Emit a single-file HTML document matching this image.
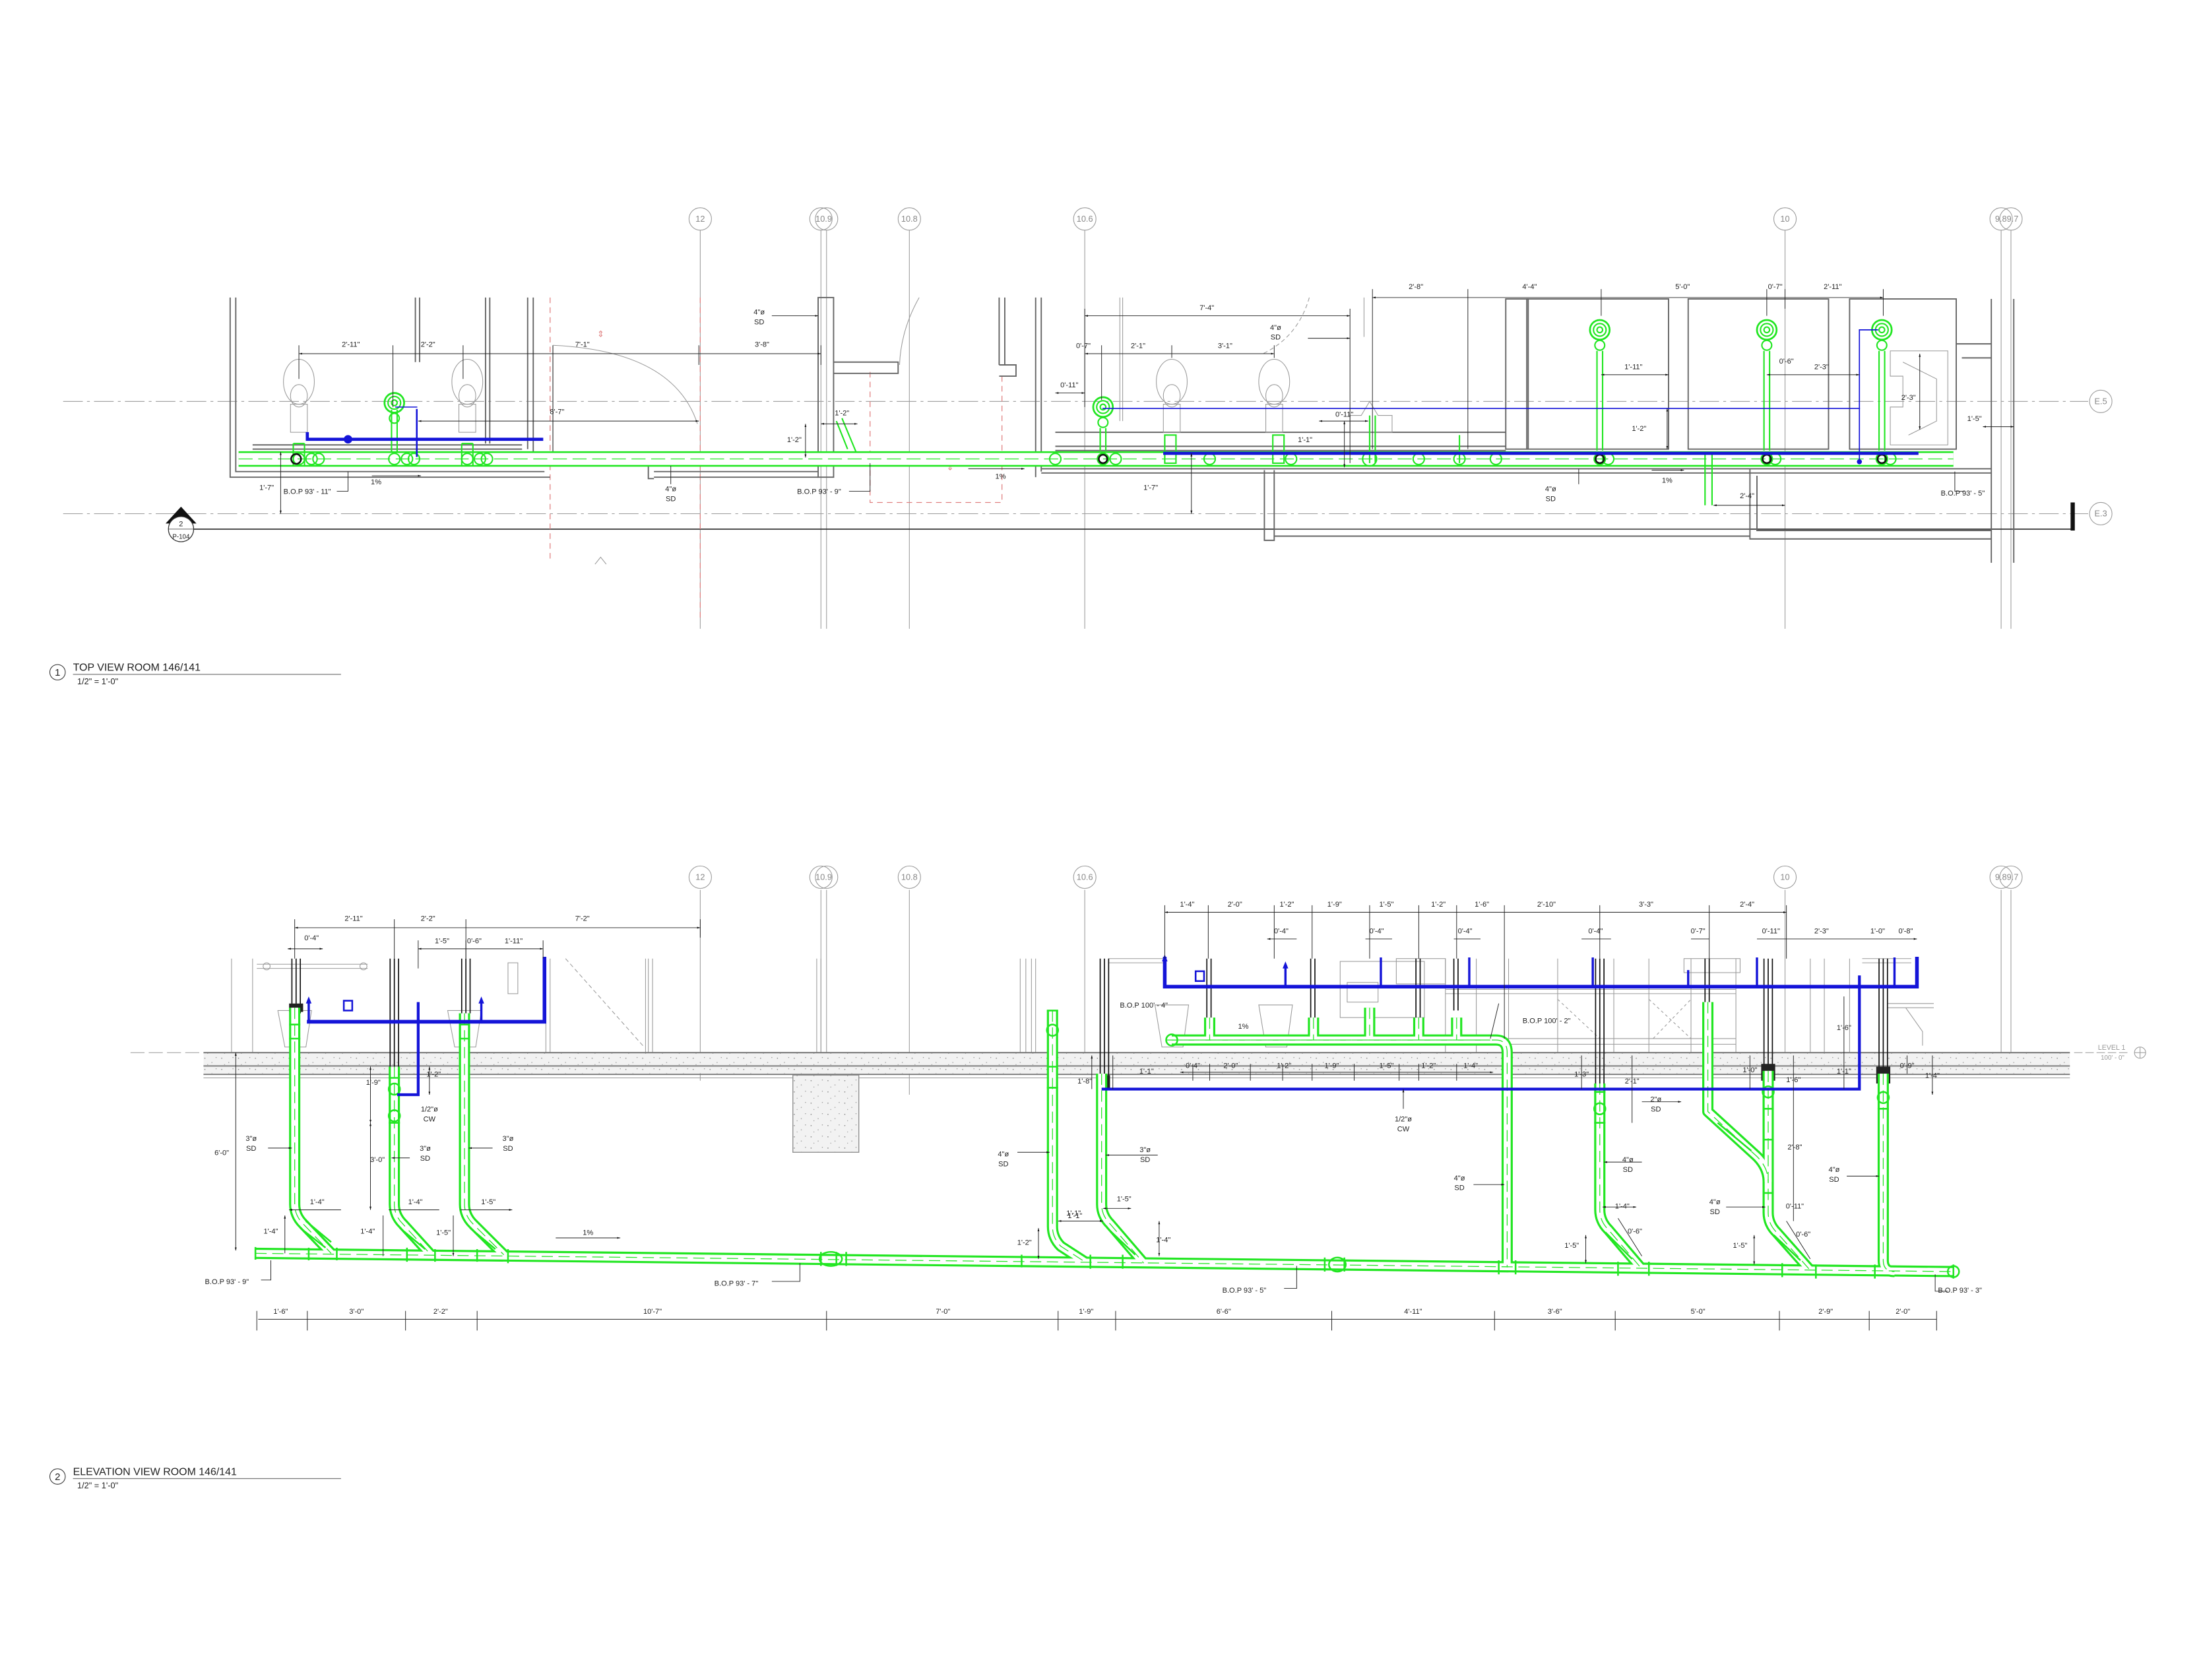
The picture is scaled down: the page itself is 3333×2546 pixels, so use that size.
<!DOCTYPE html>
<html><head><meta charset="utf-8"><style>
html,body{margin:0;padding:0;background:#fff;}
svg{display:block;}
text{font-family:"Liberation Sans Narrow","Liberation Sans",sans-serif;fill:#222;}
.d{font-size:5.2px;text-anchor:middle;}
.l{font-size:5.2px;}
.g{stroke:#9a9a9a;stroke-width:0.5;fill:none;}
.k{stroke:#444;stroke-width:0.6;fill:none;}
.w{stroke:#666;stroke-width:0.9;fill:none;}
.dl{stroke:#222;stroke-width:0.45;fill:none;}
.bl{stroke:#1414d8;fill:none;stroke-linecap:square;}
.rd{stroke:#e08080;stroke-width:0.6;fill:none;stroke-dasharray:4 3;}
.gl{stroke:#9a9a9a;stroke-width:0.5;fill:none;}
</style></head><body>
<svg width="3333" height="2546" viewBox="0 0 1567 1197" preserveAspectRatio="none" xmlns="http://www.w3.org/2000/svg">
<defs>
<marker id="a" viewBox="0 0 10 10" refX="10" refY="5" markerWidth="5" markerHeight="5" orient="auto-start-reverse"><path d="M0,2 L10,5 L0,8z" fill="#111"/></marker>
<pattern id="sp" width="12" height="8" patternUnits="userSpaceOnUse"><rect width="12" height="8" fill="#f2f2f2"/><circle cx="2" cy="2" r="0.4" fill="#888"/><circle cx="7" cy="5" r="0.35" fill="#999"/><circle cx="10" cy="1.5" r="0.3" fill="#777"/><circle cx="4" cy="6.5" r="0.3" fill="#888"/></pattern>
<g id="tp"><path d="M170,327 L1392,327"/></g>
<g id="ep">
<path d="M182,893 L1392,906"/>
<path d="M210,718 L210,858 Q210,866 216,872 L236,893"/>
<path d="M281,760 L281,858 Q281,866 287,872 L307,894"/>
<path d="M331,722 L331,858 Q331,866 337,872 L359,894"/>
<path d="M750,720 L750,874 Q750,882 756,888 L773,899"/>
<path d="M785,765 L785,858 Q785,866 791,872 L815,900"/>
<path d="M835,741 L1066,741 Q1074,741 1074,750 L1074,903"/>
<path d="M862,725 L862,741 M936,725 L936,741 M976,718 L976,741 M1011,725 L1011,741 M1038,725 L1038,741"/>
<path d="M1140,772 L1140,862 Q1140,870 1146,876 L1169,903"/>
<path d="M1217,714 L1217,792 L1252,824 Q1260,832 1260,842"/>
<path d="M1260,763 L1260,864 Q1260,872 1266,878 L1289,904"/>
<path d="M1342,765 L1342,898 Q1342,906 1350,906"/>
</g>
</defs>

<!-- ========== TOP VIEW ========== -->
<g class="g">
<path d="M499,164 V448 M585,164 V448 M589,164 V448 M648,164 V448 M773,164 V448 M1272,164 V448 M1426,164 V448 M1433,164 V448"/>
<circle cx="499" cy="156" r="8"/><circle cx="585" cy="156" r="8"/><circle cx="589" cy="156" r="8"/><circle cx="648" cy="156" r="8"/><circle cx="773" cy="156" r="8"/><circle cx="1272" cy="156" r="8"/><circle cx="1426" cy="156" r="8"/><circle cx="1433" cy="156" r="8"/>
<circle cx="1497" cy="286" r="8"/><circle cx="1497" cy="366" r="8"/>
<path d="M45,286 H1488 M45,366 H1488" stroke-dasharray="14 3 2 3"/>
</g>
<g style="font-size:6px;fill:#888" text-anchor="middle">
<text x="499" y="158" style="fill:#888">12</text><text x="587" y="158" style="fill:#888">10.9</text><text x="648" y="158" style="fill:#888">10.8</text><text x="773" y="158" style="fill:#888">10.6</text><text x="1272" y="158" style="fill:#888">10</text><text x="1430" y="158" style="fill:#888">9.89.7</text><text x="1497" y="288" style="fill:#888">E.5</text><text x="1497" y="368" style="fill:#888">E.3</text>
</g>
<path d="M130,377 H1478" stroke="#333" stroke-width="0.8"/>
<rect x="1475.5" y="358" width="3" height="20" fill="#111"/>
<path d="M118,373 L129,361 L140,373z" fill="#111"/>
<circle cx="129" cy="377" r="9" fill="#fff" stroke="#333" stroke-width="0.6"/>
<path d="M120,377 H138" stroke="#333" stroke-width="0.4"/>
<text x="129" y="375" class="d">2</text><text x="129" y="384" class="d" style="font-size:4.6px">P-104</text>

<path class="rd" d="M392,212 V400 M499,212 V440 M620,265 V358 H714 V265"/>
<text x="428" y="240" class="d" style="fill:#e08080;font-size:6px">⇕</text>
<text x="677" y="335" class="d" style="fill:#e08080;font-size:6px">⇕</text>
<path d="M424,402 L428,397 L432,402" class="g"/>

<g class="w">
<path d="M164,212 V340 H392 M168,212 V336 H388"/>
<path d="M376,212 V320 M380,212 V330"/>
<path d="M180,317 H372 M180,320 H372"/>
<path d="M296,212 V258 M299,212 V258 M346,212 V316 M349,212 V316"/>
<path d="M462,322 V341 H466 M466,336 H583 M466,340 H583"/>
<rect x="583" y="212" width="11" height="128"/>
<path d="M594,258 H640 V266 H594 M712,212 V260 M716,212 V260 M712,260 H724 V268 H712"/>
</g>
<path d="M394,246 V332" class="k"/>
<path d="M394,246 Q480,250 497,302" class="g"/>
<path d="M655,212 Q642,235 641,260" class="g"/>
<g class="g">
<ellipse cx="213" cy="272" rx="11" ry="16"/><ellipse cx="213" cy="282" rx="6" ry="8"/><rect x="207" y="288" width="12" height="20"/>
<ellipse cx="333" cy="272" rx="11" ry="16"/><ellipse cx="333" cy="282" rx="6" ry="8"/><rect x="327" y="288" width="12" height="20"/>
</g>

<g class="w">
<path d="M738,212 V340 M742,212 V336"/>
<path d="M752,308 H1073 M752,318 H1073 M752,321 H1073"/>
<path d="M742,334 H1419 M742,337 H1419"/>
<rect x="1073" y="213" width="16" height="107"/>
<rect x="1088" y="213" width="101" height="107"/>
<rect x="1203" y="213" width="100" height="107"/>
<rect x="1318" y="213" width="76" height="107"/>
<path d="M1419,213 V401 M1435,213 V401 M1394,245 H1419 M1398,255 H1419 V320"/>
<path d="M901,335 V385 H908 V335 M908,377 H1247 M908,382 H1247 M1247,334 V384 H1419 M1252,339 V378 H1419"/>
</g>
<path d="M800,212 V300 M798,212 V300 M972,212 V240" class="g"/>
<path d="M933,212 Q925,240 900,252" class="g" stroke-dasharray="3 2"/>
<g class="g">
<ellipse cx="835" cy="272" rx="11" ry="16"/><ellipse cx="835" cy="282" rx="6" ry="8"/><rect x="829" y="288" width="12" height="20"/>
<ellipse cx="908" cy="272" rx="11" ry="16"/><ellipse cx="908" cy="282" rx="6" ry="8"/><rect x="902" y="288" width="12" height="20"/>
<path d="M962,308 V296 L970,296 L976,286 L982,296 L992,296 V308z"/>
<path d="M1347,250 H1388 V317 H1347 V290 H1356 V268 H1347z M1356,258 L1380,270 V300 L1360,310"/>
</g>

<use href="#tp" stroke="#22e622" stroke-width="11" fill="none"/>
<use href="#tp" stroke="#fff" stroke-width="8.5" fill="none"/>
<path d="M170,327 H1392" stroke="#22e622" stroke-width="0.6" stroke-dasharray="10 4"/>
<g stroke="#22e622" stroke-width="1" fill="none">
<path d="M209,316 V332 M217,316 V332 M209,316 H217 M283,292 V322 M279,292 V322 M329,316 V332 M337,316 V332 M329,316 H337"/>
<circle cx="281" cy="287" r="7" stroke-width="1.3"/><circle cx="281" cy="287" r="4.5"/><circle cx="281" cy="287" r="2"/><circle cx="281" cy="298" r="3.5"/>
<circle cx="786" cy="290" r="7" stroke-width="1.3"/><circle cx="786" cy="290" r="4.5"/><circle cx="786" cy="290" r="2"/><circle cx="786" cy="301" r="3.5"/>
<circle cx="1140" cy="235" r="7" stroke-width="1.3"/><circle cx="1140" cy="235" r="4.5"/><circle cx="1140" cy="235" r="2"/><circle cx="1140" cy="246" r="3.5"/>
<circle cx="1259" cy="235" r="7" stroke-width="1.3"/><circle cx="1259" cy="235" r="4.5"/><circle cx="1259" cy="235" r="2"/><circle cx="1259" cy="246" r="3.5"/>
<circle cx="1341" cy="235" r="7" stroke-width="1.3"/><circle cx="1341" cy="235" r="4.5"/><circle cx="1341" cy="235" r="2"/><circle cx="1341" cy="246" r="3.5"/>
<path d="M1138,250 V321 M1142,250 V321 M1257,250 V321 M1261,250 V321 M1339,250 V321 M1343,250 V321 M784,305 V321 M788,305 V321"/>
<path d="M1215,324 V360 M1220,324 V360"/>
<path d="M596,300 L604,320 M600,298 L610,322 M976,296 V330 M980,296 V330"/>
<path d="M830,310 V330 H838 V310z M907,310 V330 H915 V310z M1040,310 V330"/>
</g>
<g fill="none" stroke="#22e622" stroke-width="1">
<circle cx="213" cy="327" r="4"/><circle cx="222" cy="327" r="4"/><circle cx="227" cy="327" r="4"/>
<circle cx="281" cy="327" r="4"/><circle cx="290" cy="327" r="4"/><circle cx="295" cy="327" r="4"/>
<circle cx="333" cy="327" r="4"/><circle cx="342" cy="327" r="4"/><circle cx="347" cy="327" r="4"/>
<circle cx="786" cy="327" r="4"/><circle cx="795" cy="327" r="4"/><circle cx="752" cy="327" r="4"/>
<circle cx="862" cy="327" r="4"/><circle cx="920" cy="327" r="4"/><circle cx="976" cy="327" r="5"/><circle cx="1011" cy="327" r="4"/><circle cx="1040" cy="327" r="4"/><circle cx="1066" cy="327" r="4"/>
<circle cx="1140" cy="327" r="4"/><circle cx="1146" cy="327" r="4"/><circle cx="1259" cy="327" r="4"/><circle cx="1265" cy="327" r="4"/><circle cx="1341" cy="327" r="4"/><circle cx="1347" cy="327" r="4"/>
</g>
<g fill="none" stroke="#111" stroke-width="1.2"><circle cx="211" cy="327" r="3.5"/><circle cx="786" cy="327" r="3"/><circle cx="1140" cy="327" r="3"/><circle cx="1259" cy="327" r="3"/><circle cx="1341" cy="327" r="3"/></g>
<g class="bl">
<path d="M219,309 V313 H386" stroke-width="2.2"/>
<path d="M297,292 V325" stroke-width="1.2"/><path d="M282,290 H297" stroke-width="0.7"/>
<path d="M830,323 H1366" stroke-width="2.2"/>
<path d="M786,291 H1325" stroke-width="0.8"/>
<path d="M1325,235 V328 M1325,235 H1338" stroke-width="0.8"/>
</g>
<circle cx="248" cy="313" r="3" fill="#1414d8"/><circle cx="1325" cy="329" r="1.8" fill="#1414d8"/>

<g class="dl">
<path d="M213,252 H585" marker-start="url(#a)" marker-end="url(#a)"/><path d="M213,246 V270 M280,246 V290 M330,246 V270 M498,246 V260 M585,246 V260"/>
<path d="M298,300 H498" marker-start="url(#a)" marker-end="url(#a)"/>
<path d="M200,322 V366" marker-start="url(#a)" marker-end="url(#a)"/>
<path d="M265,339 H300" marker-end="url(#a)"/>
<path d="M248,336 V350 H240" />
<path d="M478,332 V345"/><path d="M550,225 H583" marker-end="url(#a)"/>
<path d="M574,302 V326" marker-start="url(#a)" marker-end="url(#a)"/><path d="M585,302 H611" marker-start="url(#a)" marker-end="url(#a)"/>
<path d="M620,330 V350 H605"/>
<path d="M690,334 H730" marker-end="url(#a)"/>
<path d="M773,225 H962" marker-start="url(#a)" marker-end="url(#a)"/><path d="M773,220 V290 M962,220 V330"/>
<path d="M932,241 H962" marker-end="url(#a)"/>
<path d="M773,252 H908" marker-start="url(#a)" marker-end="url(#a)"/><path d="M785,246 V285 M835,246 V255 M908,246 V255"/>
<path d="M752,280 H773" marker-start="url(#a)" marker-end="url(#a)"/>
<path d="M940,300 H975" marker-start="url(#a)" marker-end="url(#a)"/>
<path d="M958,300 V333" marker-start="url(#a)" marker-end="url(#a)"/>
<path d="M849,323 V366" marker-start="url(#a)" marker-end="url(#a)"/>
<path d="M978,212 H1342" marker-start="url(#a)" marker-end="url(#a)"/>
<path d="M978,206 V320 M1046,206 V320 M1141,206 V225 M1259,206 V225 M1272,206 V220 M1342,206 V225"/>
<path d="M1141,267 H1189" marker-start="url(#a)" marker-end="url(#a)"/>
<path d="M1259,267 H1325" marker-start="url(#a)" marker-end="url(#a)"/>
<path d="M1188,291 V320" marker-start="url(#a)" marker-end="url(#a)"/>
<path d="M1368,252 V306" marker-start="url(#a)" marker-end="url(#a)"/>
<path d="M1413,304 H1435" marker-start="url(#a)" marker-end="url(#a)"/>
<path d="M1125,334 V345"/>
<path d="M1177,335 H1200" marker-end="url(#a)"/>
<path d="M1221,360 H1272" marker-start="url(#a)" marker-end="url(#a)"/>
<path d="M1393,336 V350 H1400"/>
</g>
<text class="d" x="250" y="247">2'-11"</text><text class="d" x="305" y="247">2'-2"</text><text class="d" x="415" y="247">7'-1"</text><text class="d" x="543" y="247">3'-8"</text>
<text class="d" x="397" y="295">8'-7"</text><text class="d" x="190" y="349">1'-7"</text><text class="l" x="202" y="352">B.O.P 93' - 11"</text><text class="d" x="268" y="345">1%</text>
<text class="d" x="478" y="350">4"ø</text><text class="d" x="478" y="357">SD</text>
<text class="d" x="541" y="224">4"ø</text><text class="d" x="541" y="231">SD</text>
<text class="d" x="566" y="315">1'-2"</text><text class="d" x="600" y="296">1'-2"</text>
<text class="l" x="568" y="352">B.O.P 93' - 9"</text><text class="d" x="713" y="341">1%</text>
<text class="d" x="860" y="221">7'-4"</text><text class="d" x="909" y="235">4"ø</text><text class="d" x="909" y="242">SD</text>
<text class="d" x="772" y="248">0'-7"</text><text class="d" x="811" y="248">2'-1"</text><text class="d" x="873" y="248">3'-1"</text>
<text class="d" x="762" y="276">0'-11"</text><text class="d" x="958" y="297">0'-11"</text><text class="d" x="930" y="315">1'-1"</text><text class="d" x="820" y="349">1'-7"</text>
<text class="d" x="1009" y="206">2'-8"</text><text class="d" x="1090" y="206">4'-4"</text><text class="d" x="1199" y="206">5'-0"</text><text class="d" x="1265" y="206">0'-7"</text><text class="d" x="1306" y="206">2'-11"</text>
<text class="d" x="1164" y="263">1'-11"</text><text class="d" x="1273" y="259">0'-6"</text><text class="d" x="1298" y="263">2'-3"</text>
<text class="d" x="1168" y="307">1'-2"</text><text class="d" x="1360" y="285">2'-3"</text><text class="d" x="1407" y="300">1'-5"</text>
<text class="d" x="1105" y="350">4"ø</text><text class="d" x="1105" y="357">SD</text><text class="d" x="1188" y="344">1%</text><text class="d" x="1245" y="355">2'-4"</text>
<text class="l" x="1383" y="353">B.O.P 93' - 5"</text>

<circle cx="41" cy="479" r="5.5" fill="none" stroke="#333" stroke-width="0.5"/><text class="d" x="41" y="481.5" style="font-size:7px">1</text>
<text x="52" y="478" style="font-size:7.5px">TOP VIEW ROOM 146/141</text>
<path d="M52,480.5 H243" stroke="#555" stroke-width="0.5"/>
<text x="55" y="487.5" style="font-size:6px">1/2" = 1'-0"</text>

<!-- ========== ELEVATION ========== -->
<g class="g">
<path d="M499,634 V770 M585,634 V770 M589,634 V770 M648,634 V780 M773,634 V760 M1272,634 V760 M1426,634 V760 M1433,634 V760"/>
<circle cx="499" cy="625" r="8"/><circle cx="585" cy="625" r="8"/><circle cx="589" cy="625" r="8"/><circle cx="648" cy="625" r="8"/><circle cx="773" cy="625" r="8"/><circle cx="1272" cy="625" r="8"/><circle cx="1426" cy="625" r="8"/><circle cx="1433" cy="625" r="8"/>
</g>
<g text-anchor="middle" style="font-size:6px">
<text x="499" y="627" style="fill:#888">12</text><text x="587" y="627" style="fill:#888">10.9</text><text x="648" y="627" style="fill:#888">10.8</text><text x="773" y="627" style="fill:#888">10.6</text><text x="1272" y="627" style="fill:#888">10</text><text x="1430" y="627" style="fill:#888">9.89.7</text>
</g>
<g class="gl">
<path d="M165,683 V750 M180,683 V750 M460,683 V750 M462,683 V750 M465,683 V750 M582,683 V750 M585,683 V750 M727,683 V750 M731,683 V750 M735,683 V750 M738,683 V750 M389,683 V750 M392,683 V750"/>
<path d="M183,687 H262 M183,690 H262"/><circle cx="190" cy="688.5" r="2.5"/><circle cx="259" cy="688.5" r="2.5"/>
<rect x="362" y="686" width="7" height="22"/>
<path d="M403,683 L459,746" stroke-dasharray="3 2"/>
<path d="M790,683 H830 M790,686 H830 M1327,683 H1362 M1327,686 H1362"/>
<rect x="955" y="685" width="60" height="40"/><rect x="960" y="700" width="22" height="14"/><rect x="995" y="683" width="35" height="18"/>
<path d="M1030,683 V750 M1052,683 V750 M1075,683 V750 M1110,683 V750 M1150,683 V750 M1175,683 V750 M1205,683 V750 M1237,683 V750 M1290,683 V750 M1300,683 V750 M1318,683 V750"/>
<path d="M1030,705 H1237 M1030,708 H1237 M1030,744 H1237 M1030,740 H1237"/>
<path d="M1110,712 L1140,740 M1175,712 L1205,740 M1178,740 L1205,712" stroke-dasharray="2 2"/>
<rect x="1200" y="683" width="40" height="10"/>
<path d="M1345,715 H1378 M1345,718 H1378 M1358,718 L1370,735 V745"/>
</g>
<g class="g">
<path d="M198,720 H222 L218,746 H203z"/><path d="M319,720 H343 L339,746 H324z"/>
<path d="M823,716 H847 L843,746 H828z"/><path d="M897,716 H921 L917,746 H902z"/>
</g>
<rect x="145" y="750" width="1330" height="15" fill="url(#sp)"/>
<path d="M145,750 H1475 M145,759.5 H1475 M145,765.5 H1475" stroke="#777" stroke-width="0.9"/>
<path d="M145,768 H1475" stroke="#999" stroke-width="0.5"/>
<path d="M93,750 H144" class="g" stroke-dasharray="10 3"/>
<rect x="565" y="766" width="47" height="55" fill="url(#sp)" stroke="#888" stroke-width="0.6"/>
<path d="M1478,750 H1518" class="g" stroke-dasharray="6 2"/>
<circle cx="1525" cy="750" r="4" class="g"/><path d="M1521,750 H1529 M1525,746 V754" class="g"/>
<text x="1495" y="748" style="font-size:5px;fill:#999">LEVEL 1</text><text x="1497" y="755" style="font-size:4.6px;fill:#999">100' - 0"</text>

<g stroke="#111" stroke-width="0.8" fill="none">
<path d="M208,683 V722 M211,683 V722 M214,683 V722"/>
<path d="M278,683 V760 M281,683 V760 M284,683 V760"/>
<path d="M329,683 V722 M332,683 V722 M335,683 V722"/>
<path d="M784,683 V772 M787,683 V772 M790,683 V772"/>
<path d="M860,683 V725 M863,683 V725"/>
<path d="M934,683 V725 M937,683 V725"/>
<path d="M1009,683 V725 M1012,683 V725"/>
<path d="M1036,683 V720 M1039,683 V720"/>
<path d="M1137,683 V775 M1140,683 V775 M1143,683 V775"/>
<path d="M1215,683 V714 M1218,683 V714"/>
<path d="M1257,683 V765 M1260,683 V765 M1263,683 V765"/>
<path d="M1339,683 V770 M1342,683 V770 M1345,683 V770"/>
</g>
<rect x="206" y="715" width="10" height="6" fill="#222"/><rect x="782" y="766" width="9" height="10" fill="#222"/><rect x="1255" y="758" width="10" height="12" fill="#222"/><rect x="1337" y="760" width="10" height="12" fill="#222"/>

<use href="#ep" stroke="#22e622" stroke-width="8" fill="none" stroke-linejoin="round"/>
<use href="#ep" stroke="#fff" stroke-width="5" fill="none" stroke-linejoin="round"/>
<use href="#ep" stroke="#22e622" stroke-width="0.6" fill="none" stroke-dasharray="8 4"/>
<path d="M182,888.5 V897.5 M1392,901 V911" stroke="#22e622" stroke-width="1.2"/>
<g stroke="#22e622" stroke-width="1.2" fill="none">
<path d="M220,889 V898 M240,889 V898 M290,889 V899 M310,890 V899 M340,890 V899 M362,890 V900 M585,892 V902 M596,892 V902 M603,892 V902 M728,894 V903 M777,894 V904 M800,894 V904 M944,896 V906 M958,896 V906 M1068,898 V908 M1080,898 V908 M1153,899 V909 M1175,899 V909 M1270,900 V910 M1294,901 V911 M1336,901 V911"/>
<ellipse cx="592" cy="897" rx="8" ry="5"/><ellipse cx="953" cy="901" rx="6" ry="5"/>
<circle cx="1392" cy="906" r="4"/>
<circle cx="750" cy="734" r="4"/><circle cx="1140" cy="790" r="4"/><circle cx="1260" cy="778" r="4"/><circle cx="1342" cy="782" r="4"/><circle cx="281" cy="776" r="4"/><circle cx="281" cy="795" r="4"/>
<path d="M746,720 H754 M746,760 H754 M746,775 H754 M1136,778 H1144 M1136,800 H1144 M1256,790 H1264 M1256,812 H1264 M1256,850 H1264 M1338,790 H1346 M206,730 H214 M206,740 H214 M327,730 H335 M327,740 H335 M277,768 H285 M277,800 H285"/>
<path d="M214,875 L232,889 M218,870 L236,885 M285,875 L303,890 M335,875 L353,890 M789,875 L809,894 M1144,878 L1163,897 M1264,880 L1283,898 M1224,800 L1248,820"/>
<circle cx="835" cy="741" r="4"/>
</g>
<path d="M831,741 H1062" stroke="#22e622" stroke-width="0.6" stroke-dasharray="8 4"/>

<g class="bl">
<path d="M220,728 H388 V683" stroke-width="2.6"/>
<path d="M220,713 V728 M343,713 V728" stroke-width="1.6"/>
<path d="M298,715 V780 H284" stroke-width="2"/>
<path d="M830,683 V703 H1366 V683" stroke-width="2.6"/>
<path d="M916,688 V703 M984,683 V703 M1047,683 V703 M1135,683 V703 M1203,692 V703 M1252,683 V703 M1350,683 V703" stroke-width="1.6"/>
<path d="M786,776 H1325 V696" stroke-width="2"/>
</g>
<rect x="245" y="713" width="6" height="7" fill="#fff" stroke="#1414d8" stroke-width="1.2"/>
<rect x="852" y="692" width="6" height="7" fill="#fff" stroke="#1414d8" stroke-width="1.2"/>
<path d="M218,715 L220,710 L222,715z M341,715 L343,710 L345,715z M828,685 L830,680 L832,685z M914,690 L916,685 L918,690z" fill="#1414d8"/>

<g class="dl">
<path d="M210,661 H499" marker-start="url(#a)" marker-end="url(#a)"/><path d="M210,655 V683 M281,655 V683 M332,655 V683 M499,655 V668"/>
<path d="M205,676 H230" marker-start="url(#a)" marker-end="url(#a)"/>
<path d="M298,676 H387" marker-start="url(#a)" marker-end="url(#a)"/><path d="M298,670 V690 M332,670 V683 M387,670 V683"/>
<path d="M168,750 V891" marker-start="url(#a)" marker-end="url(#a)"/>
<path d="M264,760 V800" marker-start="url(#a)" marker-end="url(#a)"/>
<path d="M306,760 V780" marker-start="url(#a)" marker-end="url(#a)"/>
<path d="M264,800 V862" marker-start="url(#a)" marker-end="url(#a)"/>
<path d="M191,818 H208" marker-end="url(#a)"/><path d="M292,825 H279" marker-end="url(#a)"/><path d="M351,818 H334" marker-end="url(#a)"/>
<path d="M206,862 H243 M277,862 H313 M328,862 H365" marker-start="url(#a)" marker-end="url(#a)"/>
<path d="M203,866 V893 M273,866 V895 M323,866 V895" marker-start="url(#a)" marker-end="url(#a)"/>
<path d="M396,882 H442" marker-end="url(#a)"/>
<path d="M193,898 V912 H186"/>
<path d="M570,900 V913 H550"/>
<path d="M184,940 H1380"/>
<path d="M183,934 V948 M219,934 V948 M289,934 V948 M340,934 V948 M589,934 V948 M754,934 V948 M795,934 V948 M949,934 V948 M1065,934 V948 M1151,934 V948 M1268,934 V948 M1332,934 V948 M1380,934 V948"/>
<path d="M830,650 H1273" marker-start="url(#a)" marker-end="url(#a)"/>
<path d="M830,645 V683 M861,645 V683 M908,645 V683 M935,645 V683 M976,645 V683 M1011,645 V683 M1038,645 V683 M1072,645 V740 M1140,645 V683 M1218,645 V683 M1273,645 V683"/>
<path d="M903,669 H924 M973,669 H992 M1036,669 H1055 M1127,669 H1148 M1205,669 H1218 M1252,669 H1366" marker-start="url(#a)" marker-end="url(#a)"/>
<path d="M841,764 H1064" marker-start="url(#a)" marker-end="url(#a)"/>
<path d="M850,758 V770 M862,758 V770 M891,758 V770 M914,758 V770 M935,758 V770 M965,758 V770 M997,758 V770 M1011,758 V770 M1038,758 V770"/>
<path d="M778,752 V776 M793,752 V776 M1127,752 V776 M1163,752 V800 M1247,752 V776 M1278,752 V870 M1314,710 V776 M1359,752 V765 M1377,752 V780" marker-start="url(#a)" marker-end="url(#a)"/>
<path d="M1000,776 V790" marker-start="url(#a)"/>
<path d="M1170,785 H1198" marker-end="url(#a)"/>
<path d="M725,821 H748" marker-end="url(#a)"/><path d="M825,823 H788" marker-end="url(#a)"/>
<path d="M1050,844 H1072" marker-end="url(#a)"/><path d="M1170,828 H1143" marker-end="url(#a)"/>
<path d="M1230,860 H1258" marker-end="url(#a)"/><path d="M1316,838 H1339" marker-end="url(#a)"/>
<path d="M786,861 H806" marker-start="url(#a)" marker-end="url(#a)"/>
<path d="M754,870 H786" marker-start="url(#a)" marker-end="url(#a)"/>
<path d="M826,870 V895" marker-start="url(#a)" marker-end="url(#a)"/>
<path d="M740,875 V897" marker-start="url(#a)" marker-end="url(#a)"/>
<path d="M1142,860 H1166" marker-start="url(#a)" marker-end="url(#a)"/>
<path d="M1130,880 V900" marker-start="url(#a)" marker-end="url(#a)"/>
<path d="M1250,880 V901" marker-start="url(#a)" marker-end="url(#a)"/>
<path d="M1153,868 L1170,895 M1273,870 L1290,897"/>
<path d="M924,902 V918 H915"/><path d="M1379,908 V920 H1388"/>
<path d="M1068,715 L1062,740" />
</g>
<text class="d" x="252" y="656">2'-11"</text><text class="d" x="305" y="656">2'-2"</text><text class="d" x="415" y="656">7'-2"</text>
<text class="d" x="222" y="670">0'-4"</text><text class="d" x="315" y="672">1'-5"</text><text class="d" x="338" y="672">0'-6"</text><text class="d" x="366" y="672">1'-11"</text>
<text class="d" x="266" y="773">1'-9"</text><text class="d" x="309" y="767">1'-2"</text><text class="d" x="306" y="792">1/2"ø</text><text class="d" x="306" y="799">CW</text>
<text class="d" x="269" y="828">3'-0"</text><text class="d" x="158" y="823">6'-0"</text>
<text class="d" x="179" y="813">3"ø</text><text class="d" x="179" y="820">SD</text><text class="d" x="303" y="820">3"ø</text><text class="d" x="303" y="827">SD</text><text class="d" x="362" y="813">3"ø</text><text class="d" x="362" y="820">SD</text>
<text class="d" x="226" y="858">1'-4"</text><text class="d" x="296" y="858">1'-4"</text><text class="d" x="348" y="858">1'-5"</text>
<text class="d" x="193" y="879">1'-4"</text><text class="d" x="262" y="879">1'-4"</text><text class="d" x="316" y="880">1'-5"</text><text class="d" x="419" y="880">1%</text>
<text class="l" x="146" y="915">B.O.P 93' - 9"</text><text class="l" x="509" y="916">B.O.P 93' - 7"</text>
<text class="d" x="715" y="824">4"ø</text><text class="d" x="715" y="831">SD</text><text class="d" x="765" y="866">1'-1"</text><text class="d" x="730" y="887">1'-2"</text><text class="d" x="773" y="772">1'-8"</text>
<text class="d" x="200" y="936">1'-6"</text><text class="d" x="254" y="936">3'-0"</text><text class="d" x="314" y="936">2'-2"</text><text class="d" x="465" y="936">10'-7"</text><text class="d" x="672" y="936">7'-0"</text><text class="d" x="774" y="936">1'-9"</text>
<text class="d" x="872" y="936">6'-6"</text><text class="d" x="1007" y="936">4'-11"</text><text class="d" x="1108" y="936">3'-6"</text><text class="d" x="1210" y="936">5'-0"</text><text class="d" x="1301" y="936">2'-9"</text><text class="d" x="1356" y="936">2'-0"</text>
<text class="d" x="846" y="646">1'-4"</text><text class="d" x="880" y="646">2'-0"</text><text class="d" x="917" y="646">1'-2"</text><text class="d" x="951" y="646">1'-9"</text><text class="d" x="988" y="646">1'-5"</text><text class="d" x="1025" y="646">1'-2"</text><text class="d" x="1056" y="646">1'-6"</text><text class="d" x="1102" y="646">2'-10"</text><text class="d" x="1173" y="646">3'-3"</text><text class="d" x="1245" y="646">2'-4"</text>
<text class="d" x="913" y="665">0'-4"</text><text class="d" x="981" y="665">0'-4"</text><text class="d" x="1044" y="665">0'-4"</text><text class="d" x="1137" y="665">0'-4"</text><text class="d" x="1210" y="665">0'-7"</text><text class="d" x="1262" y="665">0'-11"</text><text class="d" x="1298" y="665">2'-3"</text><text class="d" x="1338" y="665">1'-0"</text><text class="d" x="1358" y="665">0'-8"</text>
<text class="d" x="850" y="761">0'-4"</text><text class="d" x="877" y="761">2'-0"</text><text class="d" x="915" y="761">1'-2"</text><text class="d" x="949" y="761">1'-9"</text><text class="d" x="988" y="761">1'-5"</text><text class="d" x="1018" y="761">1'-2"</text><text class="d" x="1048" y="761">1'-4"</text>
<text class="d" x="817" y="765">1'-1"</text><text class="d" x="1127" y="767">1'-3"</text><text class="d" x="1163" y="772">2'-1"</text><text class="d" x="1247" y="764">1'-0"</text><text class="d" x="1278" y="771">1'-6"</text><text class="d" x="1314" y="765">1'-1"</text><text class="d" x="1359" y="761">0'-9"</text><text class="d" x="1377" y="768">1'-4"</text><text class="d" x="1314" y="734">1'-6"</text>
<text class="l" x="798" y="718">B.O.P 100' - 4"</text><text class="d" x="886" y="733">1%</text><text class="l" x="1085" y="729">B.O.P 100' - 2"</text>
<text class="d" x="1000" y="799">1/2"ø</text><text class="d" x="1000" y="806">CW</text>
<text class="d" x="1180" y="785">2"ø</text><text class="d" x="1180" y="792">SD</text>
<text class="d" x="1279" y="819">2'-8"</text><text class="d" x="1279" y="861">0'-11"</text>
<text class="d" x="1222" y="858">4"ø</text><text class="d" x="1222" y="865">SD</text><text class="d" x="1160" y="828">4"ø</text><text class="d" x="1160" y="835">SD</text>
<text class="d" x="1040" y="841">4"ø</text><text class="d" x="1040" y="848">SD</text><text class="d" x="1307" y="835">4"ø</text><text class="d" x="1307" y="842">SD</text>
<text class="d" x="816" y="821">3"ø</text><text class="d" x="816" y="828">SD</text>
<text class="d" x="801" y="856">1'-5"</text><text class="d" x="766" y="868">1'-1"</text><text class="d" x="829" y="885">1'-4"</text>
<text class="d" x="1156" y="861">1'-4"</text><text class="d" x="1165" y="879">0'-6"</text><text class="d" x="1120" y="889">1'-5"</text><text class="d" x="1240" y="889">1'-5"</text><text class="d" x="1285" y="881">0'-6"</text>
<text class="l" x="871" y="921">B.O.P 93' - 5"</text><text class="l" x="1381" y="921">B.O.P 93' - 3"</text>

<circle cx="41" cy="1052" r="5.5" fill="none" stroke="#333" stroke-width="0.5"/><text class="d" x="41" y="1054.5" style="font-size:7px">2</text>
<text x="52" y="1051" style="font-size:7.5px">ELEVATION VIEW ROOM 146/141</text>
<path d="M52,1053.5 H243" stroke="#555" stroke-width="0.5"/>
<text x="55" y="1060.5" style="font-size:6px">1/2" = 1'-0"</text>
</svg>
</body></html>
